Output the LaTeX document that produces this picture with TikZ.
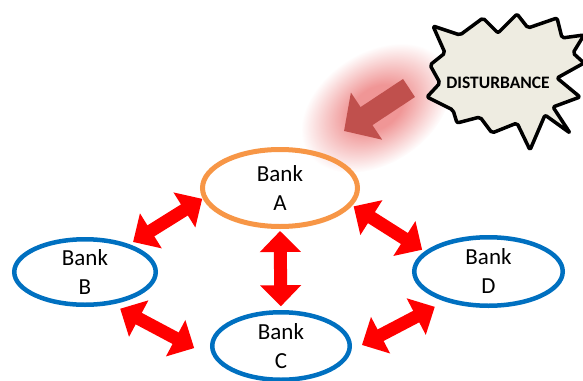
\documentclass[tikz,border=0pt]{standalone}
\usepackage{fontspec}
\setmainfont{Carlito}
\usepackage{xcolor}
\usepackage{tikz}
\usetikzlibrary{arrows.meta, shapes.geometric, calc}

\definecolor{bank blue}{RGB}{0,112,192}
\definecolor{bank orange}{RGB}{247,150,70}
\definecolor{link red}{RGB}{255,0,0}
\definecolor{hit red}{RGB}{192,80,77}
\definecolor{glow pink}{RGB}{240,150,150}
\definecolor{burst fill}{RGB}{238,236,225}
\pgfdeclareradialshading{haze}{\pgfpoint{0bp}{0bp}}{color(0bp)=(glow pink); color(9bp)=(glow pink); color(25bp)=(white); color(50bp)=(white)}

\begin{document}
\begin{tikzpicture}[x=1pt, y=-1pt,
		bank/.style = {ellipse, draw=bank blue, line width=4.5pt, inner sep=0pt, outer sep=0pt, align=center, font=\fontsize{23}{29}\selectfont},
		link/.style = {draw=link red, line width=\shaft, {Triangle[width=\head, length=21pt]}-{Triangle[width=\head, length=21pt]}}]
			\def\shaft{13pt};
			\def\head{40pt};
			
			\useasboundingbox (0,0) rectangle (583,380);
			
			\coordinate (glow centre) at (376,108);
			\coordinate (hit tail) at (409,88);
			\coordinate (hit tip) at (344,131);
			
			\begin{scope}[transform canvas={rotate around={33.2:(glow centre)}}]
				\shade[shading=haze] (glow centre) ellipse [x radius=82pt, y radius=56pt];
			\end{scope}
			\draw[hit red, line width=21.6pt, -{Triangle[width=55pt, length=27pt]}] (hit tail) -- (hit tip);
			
			\filldraw[fill=burst fill, draw=black, line width=3.5pt, line join=round, rounded corners=2pt]
				(433,26) -- (460,35) -- (483,18) -- (498,33) -- (517,14) -- (528,28) -- (557,18) -- (562,38)
				-- (584,35) -- (573,53) -- (584,63) -- (557,78) -- (580,97) -- (553,107) -- (570,133) -- (545,115)
				-- (530,150) -- (517,123) -- (492,133) -- (480,117) -- (457,123) -- (453,110) -- (427,97) -- (440,83)
				-- (430,65) -- (445,53) -- cycle;
			\node[font=\bfseries\fontsize{17.5}{20}\selectfont] (disturbance) at (498,83) {DISTURBANCE};
			
			\node[bank, draw=bank orange, line width=5pt, minimum width=155pt, minimum height=77pt] (bank A) at (280,188) {Bank\\A};
			\node[bank, minimum width=141.5pt, minimum height=65.5pt] (bank B) at (85,272) {Bank\\B};
			\node[bank, minimum width=137.5pt, minimum height=67.5pt] (bank C) at (281,346) {Bank\\C};
			\node[bank, minimum width=148.5pt, minimum height=68.5pt] (bank D) at (488.5,271.5) {Bank\\D};
			
			\begin{scope}[link]
				\draw[shorten <=3pt, shorten >=7pt] (bank A.187) -- (bank B.32);
				\draw[shorten <=4.5pt, shorten >=6pt] (bank A.south) -- (bank C.north);
				\draw[shorten <=12.6pt, shorten >=30pt] (bank B.-52) -- (bank C.195);
				\draw[shorten <=4pt, shorten >=5.3pt] (bank A.-13) -- (bank D.163);
				\draw[shorten <=15pt, shorten >=14.5pt] (bank C.-5) -- (bank D.215);
			\end{scope}
		\end{tikzpicture}
\end{document}
